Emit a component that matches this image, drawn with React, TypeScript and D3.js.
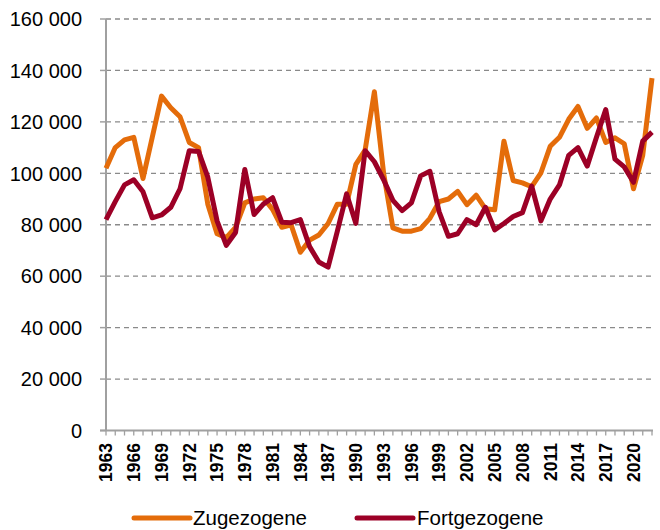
import React from 'react';
import * as d3 from 'd3';

const years = d3.range(1963, 2023).map(String);

const zugezogene = [
  102000, 110000, 113000, 114000, 98000, 114000, 130000, 125500, 122000, 112000,
  110000, 88000, 76500, 75000, 79000, 88500, 90000, 90500, 86000, 79000,
  80000, 69300, 74000, 76000, 80500, 88000, 88000, 103500, 109000, 131700,
  100000, 78800, 77500, 77500, 78500, 82500, 89000, 90000, 93000, 87800,
  91500, 86200, 85800, 112500, 97200, 96300, 94800, 100200, 110500, 114000,
  121000, 126000, 117500, 121500, 112000, 113800, 111500, 94000, 107000, 137000,
];

const fortgezogene = [
  82000, 89000, 95500, 97500, 92800, 82700, 83800, 86800, 94000, 108800,
  108500, 98500, 81500, 72000, 77000, 101500, 84000, 88000, 90500, 81000,
  80800, 82000, 71500, 65500, 63500, 77500, 92000, 80500, 108800, 104500,
  97500, 89500, 85500, 88500, 99000, 100800, 85000, 75500, 76500, 82000,
  80000, 86800, 78000, 80500, 83200, 84700, 95000, 81500, 90000, 95500,
  107000, 110000, 102800, 114000, 124800, 105500, 102500, 96500, 112500, 116000,
];

const yTicks = [0, 20000, 40000, 60000, 80000, 100000, 120000, 140000, 160000];

const seriesNames = ['Zugezogene', 'Fortgezogene'];
const colors = ['#E46C0A', '#9C0026'];

const W = 660;
const H = 530;
const fontFamily = 'Arial, "Liberation Sans", sans-serif';

export default function App() {
  const x = d3.scalePoint<string>().domain(years).range([106, 652]);
  const y = d3.scaleLinear().domain([0, 160000]).range([430.5, 19]);

  const fmt = d3.formatLocale({ decimal: ',', thousands: ' ', grouping: [3], currency: ['', ''] }).format(',d');

  const line = d3
    .line<number>()
    .x((_, i) => x(years[i]) as number)
    .y((d) => y(d));

  const data = [zugezogene, fortgezogene];

  // legend positions
  const legend = [
    { x1: 134, x2: 190, tx: 193 },
    { x1: 357, x2: 413, tx: 417 },
  ];

  return (
    <svg width={W} height={H} style={{ position: 'absolute', left: 0, top: 0, background: '#fff' }} fontFamily={fontFamily}>
      {/* gridlines */}
      {yTicks.slice(1).map((t) => (
        <line key={t} x1={106} x2={653} y1={y(t)} y2={y(t)} stroke="#8a8a8a" strokeWidth={1.3} strokeDasharray="5,4" />
      ))}

      {/* y axis */}
      <line x1={106} x2={106} y1={y(160000)} y2={y(0)} stroke="#a0a0a0" strokeWidth={2} />
      {yTicks.map((t) => (
        <g key={t}>
          <line x1={100} x2={106} y1={y(t)} y2={y(t)} stroke="#a0a0a0" strokeWidth={1.5} />
          <text x={82} y={y(t)} dy="0.36em" textAnchor="end" fontSize={20} fill="#000">
            {fmt(t)}
          </text>
        </g>
      ))}

      {/* x axis */}
      <line x1={100} x2={653} y1={y(0)} y2={y(0)} stroke="#a0a0a0" strokeWidth={2} />
      {years.map((yr) => (
        <line key={yr} x1={x(yr)} x2={x(yr)} y1={y(0)} y2={y(0) + 5} stroke="#a0a0a0" strokeWidth={1.3} />
      ))}
      {years
        .filter((_, i) => i % 3 === 0)
        .map((yr) => (
          <text
            key={yr}
            transform={`translate(${x(yr)},443) rotate(-90)`}
            dy="0.36em"
            textAnchor="end"
            fontSize={17.5}
            fontWeight="bold"
            fill="#000"
          >
            {yr}
          </text>
        ))}

      {/* series */}
      {data.map((d, i) => (
        <path key={seriesNames[i]} d={line(d) || ''} fill="none" stroke={colors[i]} strokeWidth={5} strokeLinejoin="round" />
      ))}

      {/* legend */}
      {legend.map((l, i) => (
        <g key={seriesNames[i]}>
          <line x1={l.x1} x2={l.x2} y1={518} y2={518} stroke={colors[i]} strokeWidth={5} strokeLinecap="round" />
          <text x={l.tx} y={518} dy="0.36em" fontSize={20.5} fill="#000">
            {seriesNames[i]}
          </text>
        </g>
      ))}
    </svg>
  );
}
